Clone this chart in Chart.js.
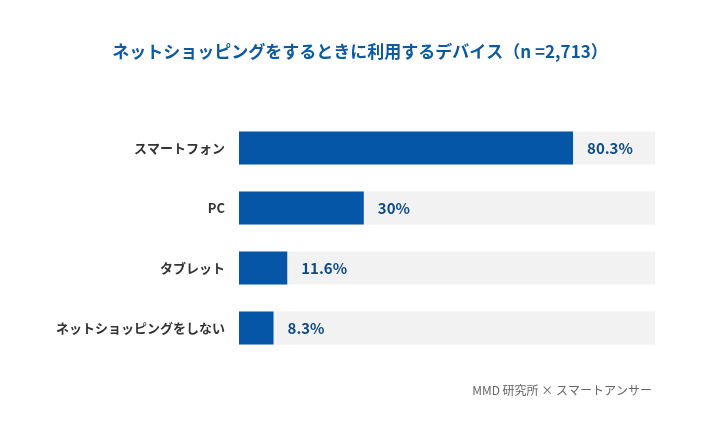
<!DOCTYPE html>
<html><head><meta charset="utf-8">
<script src="https://cdn.jsdelivr.net/npm/chart.js@4/dist/chart.umd.min.js"></script>
<style>body{margin:0;background:#fff}#w{width:720px;height:440px;position:relative}</style>
</head><body><div id="w"><canvas id="c"></canvas></div>
<script>
const categories=["スマートフォン","PC","タブレット","ネットショッピングをしない"];
const values=[80.3,30,11.6,8.3];
const valueLabels=["80.3%","30%","11.6%","8.3%"];
const track=[100,100,100,100];
const F="'Noto Sans CJK JP','Noto Sans',sans-serif";
const labelPlugin={id:'lp',afterDatasetsDraw(ch){const ctx=ch.ctx;const m=ch.getDatasetMeta(1);ctx.save();ctx.font="bold 15px "+F;ctx.fillStyle="#0d4a86";ctx.textBaseline="middle";m.data.forEach((b,i)=>{ctx.fillText(valueLabels[i],b.x+14,b.y)});
ctx.font="bold 17px "+F;ctx.textAlign="center";ctx.fillStyle="#0d5aa0";ctx.fillText("ネットショッピングをするときに利用するデバイス（n =2,713）",360,52);
ctx.font="12px "+F;ctx.textAlign="right";ctx.fillStyle="#666";ctx.fillText("MMD 研究所 × スマートアンサー",652,390);ctx.restore();}};
new Chart(document.getElementById('c'),{type:'bar',data:{labels:categories,datasets:[
{data:track,backgroundColor:'#f2f2f2',barPercentage:0.55,categoryPercentage:1,grouped:false,order:2},
{data:values,backgroundColor:'#0656a8',barPercentage:0.55,categoryPercentage:1,grouped:false,order:1}]},
options:{indexAxis:'y',responsive:true,maintainAspectRatio:false,animation:false,
layout:{padding:{top:118,bottom:82,right:65,left:0}},
plugins:{legend:{display:false},tooltip:{enabled:false}},
scales:{x:{min:0,max:100,display:false},y:{afterFit(s){s.width=239},grid:{display:false},border:{display:false},ticks:{padding:6,color:'#333',font:{family:F,size:13,weight:'bold'}}}}},
plugins:[labelPlugin]});
</script></body></html>
